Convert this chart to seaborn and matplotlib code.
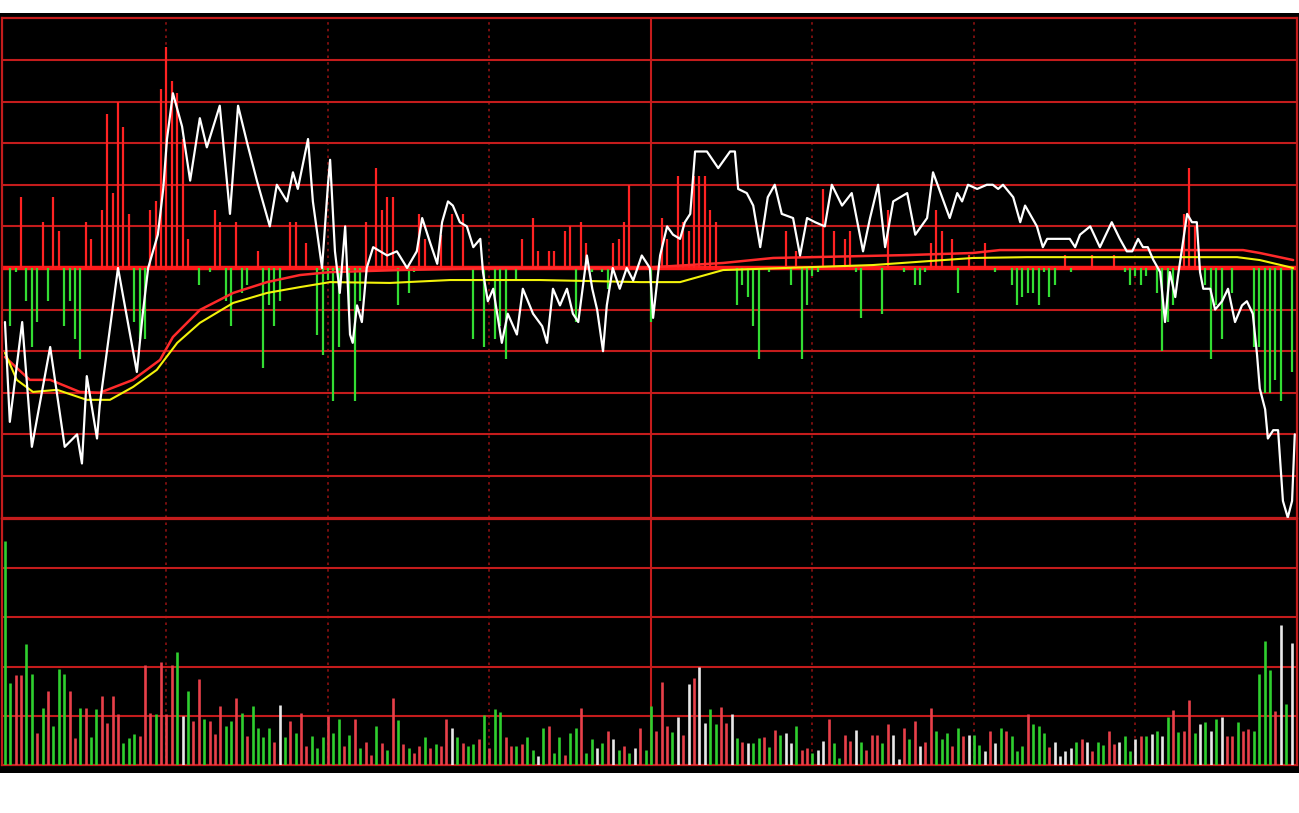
import numpy as np
import pandas as pd
import matplotlib
matplotlib.use("Agg")
import matplotlib.pyplot as plt
import seaborn as sns

# ---------------- Data (intraday, minute 0..239) ----------------
PREV_CLOSE = 10.00

# last price trace: minute, price
price_minute = [
    0.0, 0.9, 3.2, 5.0, 8.4, 11.1, 13.4, 14.3, 15.2, 17.1, 17.6, 21.0, 24.5, 25.6, 26.6,
    27.5, 28.4, 29.4, 30.1, 31.2, 32.9, 34.4, 36.2, 37.5, 39.9, 41.8, 43.3, 45.0, 46.8,
    49.2, 50.5, 52.4, 53.5, 54.4, 56.3, 57.2, 58.9, 60.0, 60.4, 61.3, 62.2, 63.2, 64.1,
    64.6, 65.4, 66.3, 67.2, 68.4, 71.0, 72.8, 74.7, 76.5, 77.5, 79.0, 80.3, 81.2, 82.3,
    83.2, 84.5, 85.8, 87.0, 88.3, 88.8, 89.7, 90.7, 92.3, 93.4, 95.1, 96.2, 98.1, 99.8,
    100.7, 101.8, 103.1, 104.4, 105.5, 106.5, 108.1, 109.1, 110.0, 111.1, 111.8, 112.9,
    114.2, 115.5, 116.7, 118.3, 119.8, 120.4, 121.7, 123.0, 124.1, 125.4, 126.3, 127.3,
    128.2, 130.4, 132.5, 134.7, 135.6, 136.2, 137.8, 139.0, 140.3, 141.7, 143.0, 144.3,
    146.4, 147.7, 149.0, 150.5, 152.3, 153.6, 155.5, 157.3, 159.4, 160.7, 162.2, 163.5,
    165.0, 167.6, 169.1, 171.3, 172.4, 175.5, 176.9, 177.8, 178.9, 180.6, 182.4, 183.5,
    184.5, 185.4, 187.3, 188.6, 189.5, 191.7, 192.8, 193.6, 197.8, 198.8, 199.7, 201.6,
    203.4, 205.6, 207.1, 208.4, 209.4, 210.5, 211.4, 212.3, 213.3, 214.6, 215.5, 216.4,
    217.4, 217.9, 218.8, 219.6, 220.5, 221.4, 222.0, 222.6, 223.9, 224.8, 226.1, 227.2,
    228.5, 229.8, 230.7, 231.8, 232.6, 233.1, 234.1, 234.6, 235.6, 236.5, 237.4, 238.3,
    239.1, 239.6,
]
price_value = [
    9.87, 9.63, 9.87, 9.57, 9.81, 9.57, 9.60, 9.53, 9.74, 9.59, 9.67, 10.00, 9.75, 9.89, 10.00,
    10.04, 10.08, 10.19, 10.31, 10.42, 10.34, 10.21, 10.36, 10.29, 10.39, 10.13, 10.39, 10.30, 10.21,
    10.10, 10.20, 10.16, 10.23, 10.19, 10.31, 10.16, 10.00, 10.20, 10.26, 10.04, 9.94, 10.10, 9.84,
    9.82, 9.91, 9.87, 10.00, 10.05, 10.03, 10.04, 10.00, 10.04, 10.12, 10.06, 10.01, 10.11, 10.16,
    10.15, 10.11, 10.10, 10.05, 10.07, 9.99, 9.92, 9.95, 9.82, 9.89, 9.84, 9.95, 9.89, 9.86,
    9.82, 9.95, 9.91, 9.95, 9.89, 9.87, 10.03, 9.95, 9.90, 9.80, 9.91, 10.00,
    9.95, 10.00, 9.97, 10.03, 10.00, 9.88, 10.03, 10.10, 10.08, 10.07, 10.11, 10.13,
    10.28, 10.28, 10.24, 10.28, 10.28, 10.19, 10.18, 10.15, 10.05, 10.17, 10.20, 10.13,
    10.12, 10.03, 10.12, 10.11, 10.10, 10.20, 10.15, 10.18, 10.04, 10.12, 10.20, 10.05,
    10.16, 10.18, 10.08, 10.12, 10.23, 10.12, 10.18, 10.16, 10.20, 10.19, 10.20, 10.20,
    10.19, 10.20, 10.17, 10.11, 10.15, 10.10, 10.05, 10.07, 10.07, 10.05, 10.08, 10.10,
    10.05, 10.11, 10.07, 10.04, 10.04, 10.07, 10.05, 10.05, 10.02, 9.99, 9.87, 9.99,
    9.93, 9.98, 10.06, 10.13, 10.11, 10.11, 9.99, 9.95, 9.95, 9.90, 9.92, 9.95,
    9.87, 9.91, 9.92, 9.89, 9.79, 9.71, 9.66, 9.59, 9.61, 9.61, 9.44, 9.40,
    9.44, 9.60,
]

# average price line (red) and slower average (yellow)
avg_minute = [0.0, 4.6, 8.4, 13.9, 17.6, 23.8, 28.8, 31.2, 36.2, 42.4, 48.7, 54.8, 60.4,
              73.4, 92.0, 118.0, 133.4, 142.7, 167.6, 179.8, 184.8, 230.0, 233.1, 239.3]
avg_value = [9.786, 9.731, 9.731, 9.702, 9.700, 9.731, 9.779, 9.834, 9.899, 9.940, 9.966,
             9.983, 9.990, 9.995, 10.000, 10.000, 10.012, 10.024, 10.031, 10.036, 10.043,
             10.043, 10.036, 10.019]

slow_minute = [0.0, 2.2, 5.2, 9.7, 15.2, 19.5, 23.8, 28.2, 32.0, 36.2, 42.4, 48.7, 54.8,
               60.4, 71.5, 82.7, 99.4, 118.0, 125.4, 133.4, 161.2, 179.8, 189.9, 228.9,
               233.1, 239.3]
slow_value = [9.796, 9.731, 9.702, 9.707, 9.683, 9.683, 9.714, 9.755, 9.820, 9.868, 9.916,
              9.940, 9.954, 9.966, 9.964, 9.971, 9.971, 9.966, 9.966, 9.995, 10.007, 10.024,
              10.026, 10.026, 10.019, 10.000]

# buy/sell strength bars around the previous close (hundredths)
bar_minute = [
    1, 2, 3, 4, 5, 6, 7, 8, 9, 10, 11, 12, 13, 14, 15, 16, 18, 19, 20, 21, 22, 23, 24, 25,
    26, 27, 28, 29, 30, 31, 32, 33, 34, 36, 38, 39, 40, 41, 42, 43, 44, 45, 47, 48, 49, 50,
    51, 53, 54, 56, 58, 59, 60, 61, 62, 64, 65, 66, 67, 69, 70, 71, 72, 73, 75, 76, 77, 78,
    81, 83, 85, 87, 89, 91, 92, 93, 95, 96, 98, 99, 101, 102, 104, 105, 106, 107, 108, 109,
    111, 112, 113, 114, 115, 116, 120, 122, 123, 125, 126, 127, 128, 129, 130, 131, 132,
    136, 137, 138, 139, 140, 142, 145, 146, 147, 148, 149, 150, 151, 152, 154, 156, 157,
    158, 159, 163, 164, 167, 169, 170, 171, 172, 173, 174, 176, 177, 179, 182, 184, 187,
    188, 189, 190, 191, 192, 193, 194, 195, 197, 198, 202, 206, 208, 209, 210, 211, 212,
    214, 215, 216, 217, 219, 220, 221, 223, 224, 225, 226, 228, 232, 233, 234, 235, 236,
    237, 239,
]
bar_strength = [
    -14, -1, 17, -8, -19, -13, 11, -8, 17, 9, -14, -8, -17, -22, 11, 7, 14, 37, 18, 40, 34, 13, -13, -17,
    -17, 14, 16, 43, 53, 45, 42, 31, 7, -4, -1, 14, 11, -8, -14, 11, -6, -4, 4, -24, -9, -14,
    -8, 11, 11, 6, -16, -21, -3, -32, -19, -10, -32, -8, 11, 24, 14, 17, 17, -9, -6, -1, 13, 7,
    8, 13, 13, -17, -19, -17, -14, -22, -3, 7, 12, 4, 4, 4, 9, 10, -13, 11, 6, -1,
    -1, -5, 6, 7, 11, 20, -13, 12, 7, 22, 11, 9, 22, 22, 22, 14, 11,
    -9, -4, -7, -14, -22, -1, 9, -4, 4, -22, -9, -2, -1, 19, 9, 7, 9,
    -1, -12, -11, 14, -1, -4, -4, -1, 6, 14, 9, 7, -6, 3, 6, -1, -4,
    -9, -7, -6, -6, -9, -1, -7, -4, 3, -1, 3, 3, -1, -4, -2, -4, -2,
    -6, -20, -13, -9, 13, 24, 10, -4, -22, -9, -17, -6, -19, -19, -30, -30, -27,
    -32, -25,
]

# volume per minute (lots) and bar colour: r = up tick, g = down tick, w = unchanged
volume = [
    2280, 830, 910, 910, 1230, 930, 330, 580, 750, 400,
    980, 930, 750, 270, 580, 580, 280, 570, 700, 430,
    700, 520, 220, 270, 320, 300, 1020, 530, 520, 1050,
    520, 1020, 1150, 500, 750, 450, 870, 470, 450, 320,
    600, 400, 450, 680, 530, 290, 600, 380, 280, 380,
    230, 610, 280, 450, 330, 530, 190, 300, 170, 280,
    500, 330, 470, 190, 310, 470, 170, 230, 100, 400,
    220, 150, 680, 460, 210, 170, 120, 190, 280, 170,
    210, 190, 470, 380, 280, 220, 190, 210, 260, 510,
    170, 570, 540, 280, 190, 190, 210, 280, 150, 90,
    380, 400, 120, 280, 100, 330, 380, 580, 120, 260,
    170, 220, 350, 260, 150, 190, 120, 170, 380, 150,
    600, 350, 840, 400, 340, 490, 310, 820, 880, 1000,
    430, 570, 420, 590, 430, 520, 270, 230, 220, 220,
    270, 280, 180, 360, 310, 330, 220, 400, 150, 170,
    120, 150, 240, 470, 220, 70, 310, 240, 360, 230,
    150, 310, 310, 220, 420, 310, 60, 380, 260, 450,
    190, 230, 580, 350, 260, 330, 190, 380, 300, 310,
    310, 200, 140, 350, 220, 380, 350, 300, 140, 190,
    520, 420, 400, 330, 180, 230, 90, 140, 170, 230,
    260, 230, 140, 230, 200, 350, 210, 230, 300, 140,
    260, 300, 300, 320, 350, 300, 490, 560, 340, 350,
    660, 330, 420, 440, 350, 470, 490, 300, 300, 440,
    350, 370, 350, 930, 1260, 970, 550, 1420, 620, 1240,
]
volume_tick = (
    "ggrrggrgrg" "ggrrgrggrr" "rrgggrrrgr" "rrgwgrrgrr" "rggrgrgggg" "rwgrgrrggg"
    "rggrgrgrrg" "rgrgrgrrgr" "grrwgrggrg" "rggrrgrggw" "grggrggrgg" "wgrwgrgwrg"
    "grrrgwrwrw" "wggrrwgrwg" "grgrgwwgrr" "gwwrggrrwg" "rrrgrwwrgr" "wrrgggrgrw"
    "ggwrwgrggg" "rgggrwwwwg" "rwrggrrwgg" "wrgwgwgrgr" "rgwgwgwrrg" "rrggggrwgw"
)

session_marks = [30, 60, 90, 150, 180, 210]
midday_mark = 120

# ---------------- Style ----------------
BG = "black"
GRID = "#c41c1c"
DOTTED = "#8e1212"
CENTER = "#ff1a1a"
tick_colors = {"r": "#e8404a", "g": "#2fcf2f", "w": "#e8e8e8"}

sns.set_style("dark", {"axes.facecolor": BG})
plt.rcParams["font.family"] = ["DejaVu Sans"]

fig = plt.figure(figsize=(12.99, 8.13), dpi=100)
fig.patch.set_facecolor("white")

# black frame behind both panels
bg = fig.add_axes([0, 0.0492, 1, 0.9348])
bg.set_facecolor(BG)
bg.set_xticks([])
bg.set_yticks([])
for s in bg.spines.values():
    s.set_visible(False)

ax_p = fig.add_axes([0.0015, 0.3634, 0.9969, 0.6140])
ax_v = fig.add_axes([0.0015, 0.0590, 0.9969, 0.3026])

for ax in (ax_p, ax_v):
    ax.set_facecolor(BG)
    ax.set_xlim(-0.56, 240.0)
    ax.tick_params(length=0, labelleft=False, labelbottom=False)
    ax.grid(False)
    for s in ax.spines.values():
        s.set_color(GRID)
        s.set_linewidth(1.6)
    for m in session_marks:
        ax.axvline(m, color=DOTTED, lw=1.2, ls=(0, (1.5, 2.5)), zorder=1)
    ax.axvline(midday_mark, color=GRID, lw=1.5, zorder=1)

# ---------------- Price panel ----------------
ax_p.set_ylim(PREV_CLOSE - 0.6, PREV_CLOSE + 0.6)
for lvl in np.arange(-0.5, 0.51, 0.1):
    if abs(lvl) < 1e-9:
        continue
    ax_p.axhline(PREV_CLOSE + lvl, color=GRID, lw=1.5, zorder=1)
ax_p.axhline(PREV_CLOSE, color=CENTER, lw=3.2, zorder=2)

strength = np.array(bar_strength) / 100.0
bar_cols = ["#ff2222" if v > 0 else "#33dd33" for v in strength]
ax_p.vlines(bar_minute, PREV_CLOSE, PREV_CLOSE + strength, colors=bar_cols, lw=1.6, zorder=3)

sns.lineplot(x=avg_minute, y=avg_value, ax=ax_p, color="#ff2a2a", lw=1.8,
             estimator=None, sort=False, zorder=4)
sns.lineplot(x=slow_minute, y=slow_value, ax=ax_p, color="#f2f20a", lw=1.5,
             estimator=None, sort=False, zorder=4)
sns.lineplot(x=price_minute, y=price_value, ax=ax_p, color="white", lw=1.6,
             estimator=None, sort=False, zorder=5)
ax_p.set_xlabel("")
ax_p.set_ylabel("")

# ---------------- Volume panel ----------------
vol_df = pd.DataFrame({"minute": np.arange(len(volume)), "volume": volume,
                       "tick": list(volume_tick)})
ax_v.set_ylim(0, 2500)
for lvl in (500, 1000, 1500, 2000):
    ax_v.axhline(lvl, color=GRID, lw=1.5, zorder=1)
ax_v.vlines(vol_df["minute"], 0, vol_df["volume"],
            colors=[tick_colors[t] for t in vol_df["tick"]], lw=1.9, zorder=3)
ax_v.set_xlabel("")
ax_v.set_ylabel("")

fig.savefig("out.png", dpi=100, facecolor=fig.get_facecolor())
